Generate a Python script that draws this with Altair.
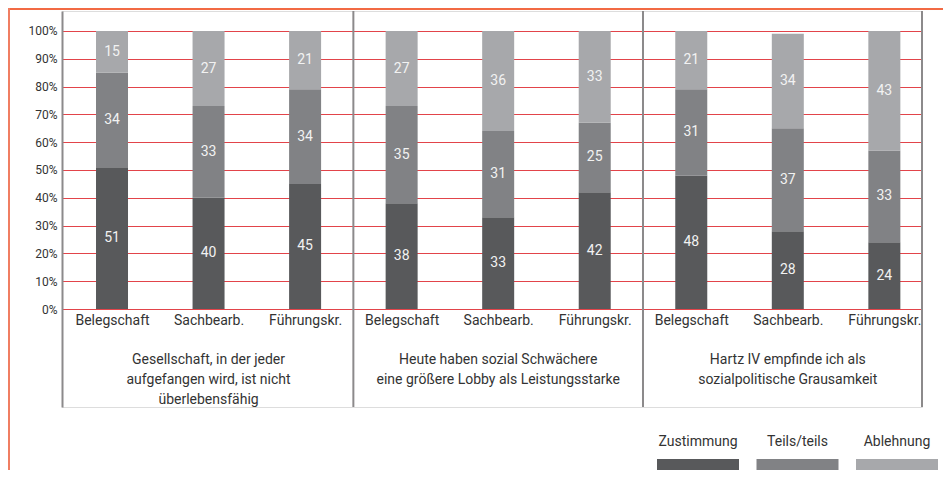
import json
import altair as alt
import pandas as pd

# ---- data ----
groups = [
    "Gesellschaft, in der jeder\naufgefangen wird, ist nicht\nüberlebensfähig",
    "Heute haben sozial Schwächere\neine größere Lobby als Leistungsstarke",
    "Hartz IV empfinde ich als\nsozialpolitische Grausamkeit",
]
roles = ["Belegschaft", "Sachbearb.", "Führungskr."]
answers = ["Zustimmung", "Teils/teils", "Ablehnung"]
zustimmung = [51, 40, 45, 38, 33, 42, 48, 28, 24]
teils = [34, 33, 34, 35, 31, 25, 31, 37, 33]
ablehnung = [15, 27, 21, 27, 36, 33, 21, 34, 43]
colors = ["#58595b", "#818285", "#a7a8ab"]
y_ticks = [0, 10, 20, 30, 40, 50, 60, 70, 80, 90, 100]

# ---- layout constants (styling only) ----
W, H = 860, 396
PAD_L, PAD_T, PAD_R, PAD_B = 54, 3, 21, 63
X_DOMAIN = [-0.518, 8.39]
Y_DOMAIN = [-35.25, 107.19]
FONT = "Roboto"
TEXT_COL = "#333333"

rows = []
series = [zustimmung, teils, ablehnung]
for i in range(len(zustimmung)):
    base = 0
    for k, ans in enumerate(answers):
        v = series[k][i]
        rows.append({
            "pos": i,
            "role": roles[i % 3],
            "answer": ans,
            "value": v,
            "y0": base,
            "y1": base + v,
            "mid": base + v / 2,
        })
        base += v
df = pd.DataFrame(rows)

xs = alt.Scale(domain=X_DOMAIN, nice=False, zero=False, padding=0)
ys = alt.Scale(domain=Y_DOMAIN, nice=False, zero=False, padding=0)
cs = alt.Scale(domain=answers, range=colors)

role_expr = json.dumps(roles) + "[datum.value % 3]"

x_axis = alt.Axis(
    values=list(range(len(zustimmung))),
    labelExpr=role_expr,
    domain=False, ticks=False, grid=False, title=None,
    offset=-(H - 298), labelPadding=4,
    labelFont=FONT, labelFontSize=14, labelColor=TEXT_COL,
    labelOverlap=False, labelFlush=False,
)
y_axis = alt.Axis(
    values=y_ticks,
    labelExpr="datum.value + '%'",
    title=None, ticks=False, labelPadding=5,
    labelFont=FONT, labelFontSize=12, labelColor=TEXT_COL,
    labelOverlap=False,
    domainColor="#8c8a8b", domainWidth=2,
    grid=True, gridColor="#e2444a", gridWidth=1,
)

bars = alt.Chart(df).mark_bar(size=32).encode(
    x=alt.X("pos:Q", scale=xs, axis=x_axis),
    y=alt.Y("y0:Q", scale=ys, axis=y_axis),
    y2="y1:Q",
    color=alt.Color("answer:N", scale=cs, legend=None),
)

labels = alt.Chart(df).mark_text(
    font=FONT, fontSize=14, color="#f2f2f2", baseline="middle", align="center"
).encode(
    x=alt.X("pos:Q", scale=xs, axis=x_axis),
    y=alt.Y("mid:Q", scale=ys, axis=y_axis),
    text="value:Q",
)

sep_df = pd.DataFrame({"sep": [2.5, 5.5, X_DOMAIN[1]]})
seps = alt.Chart(sep_df).mark_rule(color="#8c8a8b", strokeWidth=2).encode(
    x=alt.X("sep:Q", scale=xs, axis=x_axis)
)

title_df = pd.DataFrame({"pos": [1, 4, 7], "title": groups})
titles = alt.Chart(title_df).mark_text(
    font=FONT, fontSize=14, color=TEXT_COL, lineBreak="\n", lineHeight=20,
    align="center", baseline="top",
).encode(
    x=alt.X("pos:Q", scale=xs, axis=x_axis),
    y=alt.value(342),
    text="title:N",
)

# legend (labels above swatches)
legend_layers = []
for k, ans in enumerate(answers):
    x0 = 595 + k * 99.5
    legend_layers.append(
        alt.Chart(pd.DataFrame({"a": [ans]})).mark_rect(color=colors[k]).encode(
            x=alt.value(x0), x2=alt.value(x0 + 82),
            y=alt.value(448), y2=alt.value(461),
        )
    )
    legend_layers.append(
        alt.Chart(pd.DataFrame({"a": [ans]})).mark_text(
            font=FONT, fontSize=14, color=TEXT_COL, align="center",
            baseline="alphabetic",
        ).encode(
            x=alt.value(x0 + 41), y=alt.value(435), text="a:N",
        )
    )

# orange frame (top and left)
frame_top = alt.Chart(pd.DataFrame({"f": [0]})).mark_rule(
    color="#f26a44", strokeWidth=2
).encode(
    x=alt.value(-PAD_L), x2=alt.value(W + PAD_R), y=alt.value(-PAD_T + 1)
)
frame_left = alt.Chart(pd.DataFrame({"f": [0]})).mark_rule(
    color="#f07e62", strokeWidth=2
).encode(
    x=alt.value(-PAD_L + 1), y=alt.value(-PAD_T), y2=alt.value(H + PAD_B)
)

chart = alt.layer(
    bars, labels, seps, titles, *legend_layers, frame_top, frame_left
).properties(
    width=W, height=H,
    autosize=alt.AutoSizeParams(type="none"),
    padding={"left": PAD_L, "top": PAD_T, "right": PAD_R, "bottom": PAD_B},
).configure_view(strokeWidth=0).configure(background="white")

chart.save("out.html", embed_options={"renderer": "svg", "actions": False})
